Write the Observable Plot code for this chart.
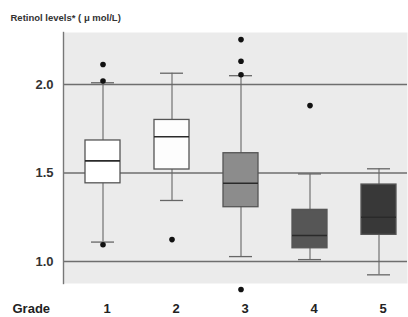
<!DOCTYPE html>
<html>
<head>
<meta charset="utf-8">
<script src="https://cdn.jsdelivr.net/npm/d3@7"></script>
<script src="https://cdn.jsdelivr.net/npm/@observablehq/plot@0.6"></script>
<style>
  html, body { margin: 0; padding: 0; background: #ffffff; }
  #chart svg { display: block; }
</style>
</head>
<body>
<div id="chart"></div>
<script>
const grades = [1, 2, 3, 4, 5];
const q1 = [1.442, 1.52, 1.307, 1.075, 1.151];
const medians = [1.569, 1.705, 1.442, 1.147, 1.25];
const q3 = [1.684, 1.80, 1.612, 1.292, 1.435];
const whiskerLow = [1.11, 1.345, 1.028, 1.011, 0.925];
const whiskerHigh = [2.01, 2.064, 2.05, 1.495, 1.524];
const boxFill = ["#ffffff", "#fdfdfd", "#8c8c8c", "#565656", "#383838"];
const outlierGrade = [1, 1, 1, 2, 3, 3, 3, 3, 4];
const outlierValue = [2.113, 2.02, 1.095, 1.124, 2.254, 2.132, 2.055, 0.842, 1.881];
const yTicks = [1.0, 1.5, 2.0];
const titleText = "Retinol levels* ( \u03bc mol/L)";
const xTitle = "Grade";

const boxes = grades.map((g, i) => ({
  grade: g, q1: q1[i], median: medians[i], q3: q3[i],
  lo: whiskerLow[i], hi: whiskerHigh[i], fill: boxFill[i]
}));
const outliers = outlierGrade.map((g, i) => ({ grade: g, value: outlierValue[i] }));

const chart = Plot.plot({
  width: 408,
  height: 317,
  marginLeft: 63,
  marginRight: 1,
  marginTop: 32,
  marginBottom: 34,
  style: { fontFamily: "'Liberation Sans', Arial, sans-serif", fontWeight: "bold", background: "#ffffff", color: "#333" },
  x: { type: "band", domain: grades, range: [66, 415], paddingInner: 0.49, paddingOuter: 0.245, axis: null },
  y: { domain: [0.876, 2.294], axis: null },
  color: { type: "identity" },
  marks: [
    Plot.frame({ fill: "#ebebeb" }),
    Plot.ruleY(yTicks, { stroke: "#6e6e6e", strokeWidth: 1.4 }),
    Plot.frame({ anchor: "left", stroke: "#777", strokeWidth: 1.4 }),
    Plot.ruleX(boxes, { x: "grade", y1: "lo", y2: "hi", stroke: "#666", strokeWidth: 1.1 }),
    Plot.tickY(boxes, { x: "grade", y: "lo", insetLeft: 6, insetRight: 6, stroke: "#666", strokeWidth: 1.3 }),
    Plot.tickY(boxes, { x: "grade", y: "hi", insetLeft: 6, insetRight: 6, stroke: "#666", strokeWidth: 1.3 }),
    Plot.barY(boxes, { x: "grade", y1: "q1", y2: "q3", fill: "fill", stroke: "#555", strokeWidth: 1.3 }),
    Plot.tickY(boxes, { x: "grade", y: "median", stroke: "#2a2a2a", strokeWidth: 1.6 }),
    Plot.dot(outliers, { x: "grade", y: "value", r: 2.8, fill: "#111", stroke: "none" }),
    Plot.axisY(yTicks, { tickSize: 0, tickPadding: 10, tickFormat: d3.format(".1f"), fontSize: 13, color: "#333" }),
    Plot.axisX(grades, { tickSize: 0, tickPadding: 20, fontSize: 13, dx: 4, color: "#222", label: null }),
    Plot.text([titleText], { frameAnchor: "top-left", dx: -53, dy: -14.5, textAnchor: "start", lineAnchor: "middle", fontSize: 9.5, fill: "#333" }),
    Plot.text([xTitle], { frameAnchor: "bottom-left", dx: -51, dy: 20, textAnchor: "start", lineAnchor: "top", fontSize: 13, fill: "#222" })
  ]
});
document.getElementById("chart").appendChild(chart);
</script>
</body>
</html>
